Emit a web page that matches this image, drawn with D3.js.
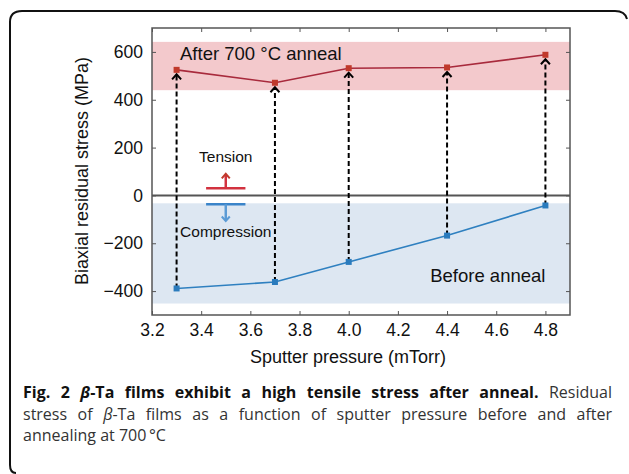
<!DOCTYPE html>
<html>
<head>
<meta charset="utf-8">
<script src="https://cdn.jsdelivr.net/npm/d3@7"></script>
<style>
body{margin:0;background:#fff}
svg{display:block}
</style>
</head>
<body>
<svg id="chart" width="629" height="474"></svg>
<script>
// sputter pressure (mTorr)
const pressure=[3.3,3.7,4.0,4.4,4.8]
// residual stress (MPa)
const afterAnneal=[525,471,532,535,588]
const beforeAnneal=[-389,-362,-278,-168,-42]
const xTicks=[3.2,3.4,3.6,3.8,4.0,4.2,4.4,4.6,4.8]
const yTicks=[-400,-200,0,200,400,600]
const tensionBand=[440,642]
const compressionBand=[-452,-33]

const svg=d3.select("#chart")
const m={l:152,t:28,r:570,b:315}
const x=d3.scaleLinear().domain([3.2,4.9]).range([m.l,m.r])
const y=d3.scaleLinear().domain([-500,700]).range([m.b,m.t])
const font="'Liberation Sans', Arial, sans-serif"

// frame around the figure
svg.append("path")
 .attr("d","M16,473 Q10,473 10,465 L10,22 Q10,11 22,11 L615,11 Q625,11 627,19")
 .attr("fill","none").attr("stroke","#111").attr("stroke-width",2)

const defs=svg.append("defs")
defs.append("clipPath").attr("id","clip").append("rect")
 .attr("x",m.l).attr("y",m.t).attr("width",m.r-m.l).attr("height",m.b-m.t)
function tip(id,col,sz){
 defs.append("marker").attr("id",id).attr("viewBox","-6 -6 12 12")
  .attr("refX",0).attr("refY",0).attr("markerWidth",12).attr("markerHeight",12)
  .attr("markerUnits","userSpaceOnUse").attr("orient","auto")
  .append("path").attr("d",`M${-sz},${-sz} L0.5,0 L${-sz},${sz}`).attr("fill","none")
  .attr("stroke",col).attr("stroke-width",2)
}
tip("ah","#000",4.5)
tip("tipR","#c0392b",4)
tip("tipB","#5b9bd5",4)

const g=svg.append("g").attr("clip-path","url(#clip)")
g.append("rect").attr("x",m.l).attr("width",m.r-m.l)
 .attr("y",y(tensionBand[1])).attr("height",y(tensionBand[0])-y(tensionBand[1]))
 .attr("fill","#f3c9cc")
g.append("rect").attr("x",m.l).attr("width",m.r-m.l)
 .attr("y",y(compressionBand[1])).attr("height",y(compressionBand[0])-y(compressionBand[1]))
 .attr("fill","#dde7f2")
g.append("line").attr("x1",m.l).attr("x2",m.r).attr("y1",y(0)).attr("y2",y(0))
 .attr("stroke","#555").attr("stroke-width",2)

// axes, ticks pointing inward
const tk=4
function styleAxis(sel){
 sel.select(".domain").remove()
 sel.selectAll("line").attr("stroke","#555")
 sel.selectAll("text").attr("font-family",font).attr("font-size",17.5).attr("fill","#111")
}
svg.append("g").attr("transform",`translate(0,${m.b})`)
 .call(d3.axisBottom(x).tickValues(xTicks).tickFormat(d3.format(".1f")).tickSizeInner(-tk).tickPadding(9))
 .call(styleAxis)
svg.append("g").attr("transform",`translate(0,${m.t})`)
 .call(d3.axisTop(x).tickValues(xTicks).tickFormat("").tickSizeInner(-tk))
 .call(styleAxis)
svg.append("g").attr("transform",`translate(${m.l},0)`)
 .call(d3.axisLeft(y).tickValues(yTicks).tickFormat(d=>d<0?"\u2212"+(-d):d).tickSizeInner(-tk).tickPadding(9))
 .call(styleAxis)
svg.append("g").attr("transform",`translate(${m.r},0)`)
 .call(d3.axisRight(y).tickValues(yTicks).tickFormat("").tickSizeInner(-tk))
 .call(styleAxis)
svg.append("rect").attr("x",m.l).attr("y",m.t).attr("width",m.r-m.l).attr("height",m.b-m.t)
 .attr("fill","none").attr("stroke","#555").attr("stroke-width",1.5)

// dashed arrows from before to after
svg.append("g").selectAll("line").data(pressure).join("line")
 .attr("x1",d=>x(d)).attr("x2",d=>x(d))
 .attr("y1",(d,i)=>y(beforeAnneal[i])).attr("y2",(d,i)=>y(afterAnneal[i])+5)
 .attr("stroke","#000").attr("stroke-width",2).attr("stroke-dasharray","5,3")
 .attr("marker-end","url(#ah)")

// series
const line=d3.line().x(d=>x(d[0])).y(d=>y(d[1]))
const redPts=pressure.map((p,i)=>[p,afterAnneal[i]])
const bluePts=pressure.map((p,i)=>[p,beforeAnneal[i]])
svg.append("path").attr("d",line(redPts)).attr("fill","none").attr("stroke","#a82a3c").attr("stroke-width",1.6)
svg.append("g").selectAll("rect").data(redPts).join("rect")
 .attr("x",d=>x(d[0])-3).attr("y",d=>y(d[1])-3).attr("width",6).attr("height",6).attr("fill","#c0392b")
svg.append("path").attr("d",line(bluePts)).attr("fill","none").attr("stroke","#2f80c0").attr("stroke-width",1.6)
svg.append("g").selectAll("rect").data(bluePts).join("rect")
 .attr("x",d=>x(d[0])-3).attr("y",d=>y(d[1])-3).attr("width",6).attr("height",6).attr("fill","#2a7bbd")

// tension / compression symbols
svg.append("line").attr("x1",x(3.42)).attr("x2",x(3.58)).attr("y1",y(30)).attr("y2",y(30))
 .attr("stroke","#d2323f").attr("stroke-width",2.5)
svg.append("line").attr("x1",x(3.5)).attr("x2",x(3.5)).attr("y1",y(30)).attr("y2",y(88))
 .attr("stroke","#d2323f").attr("stroke-width",2.5).attr("marker-end","url(#tipR)")
svg.append("line").attr("x1",x(3.42)).attr("x2",x(3.58)).attr("y1",y(-37)).attr("y2",y(-37))
 .attr("stroke","#3a84c9").attr("stroke-width",2.5)
svg.append("line").attr("x1",x(3.5)).attr("x2",x(3.5)).attr("y1",y(-37)).attr("y2",y(-105))
 .attr("stroke","#5b9bd5").attr("stroke-width",2.5).attr("marker-end","url(#tipB)")

const lab=svg.append("g").attr("font-family",font).attr("fill","#111")
lab.append("text").attr("x",x(3.5)).attr("y",y(140)).attr("text-anchor","middle").attr("font-size",15.5).text("Tension")
lab.append("text").attr("x",x(3.5)).attr("y",y(-175)).attr("text-anchor","middle").attr("font-size",15.5).text("Compression")
lab.append("text").attr("x",x(3.314)).attr("y",y(567)).attr("font-size",18.5).text("After 700 \u00b0C anneal")
lab.append("text").attr("x",x(4.8)).attr("y",y(-362)).attr("text-anchor","end").attr("font-size",18.5).text("Before anneal")
lab.append("text").attr("x",348).attr("y",363).attr("text-anchor","middle").attr("font-size",18).text("Sputter pressure (mTorr)")
lab.append("text").attr("transform",`translate(88,171) rotate(-90)`).attr("text-anchor","middle").attr("font-size",18).text("Biaxial residual stress (MPa)")

// caption, justified lines
const capFont="'Open Sans', 'Noto Sans', sans-serif"
const capLines=[
 [["Fig. 2 ","b"],["\u03b2","bi"],["-Ta films exhibit a high tensile stress after anneal. ","b"],["Residual","n"]],
 [["stress of ","n"],["\u03b2","i"],["-Ta films as a function of sputter pressure before and after","n"]],
 [["annealing at 700\u2009\u00b0C","n"]]
]
const capX=23,capW=589
capLines.forEach((ln,li)=>{
 const t=svg.append("text").attr("x",capX).attr("y",398+li*21.5)
  .attr("font-family",capFont).attr("font-size",16).attr("fill","#333")
 ln.forEach(s=>{
  t.append("tspan").text(s[0])
   .attr("font-weight",s[1].includes("b")?"bold":"normal")
   .attr("font-style",s[1].includes("i")?"italic":"normal")
   .attr("fill",s[1].includes("b")?"#111":"#333")
 })
 if(li<2){
  const w=t.node().getComputedTextLength()
  const n=ln.map(s=>s[0]).join("").split(" ").length-1
  if(w<capW) t.attr("word-spacing",(capW-w)/n)
  else t.attr("textLength",capW).attr("lengthAdjust","spacingAndGlyphs")
 }
})
</script>
</body>
</html>
